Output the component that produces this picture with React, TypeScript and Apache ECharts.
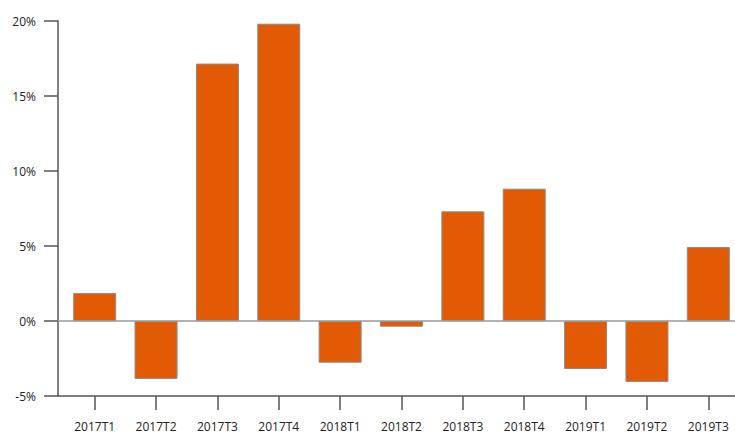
import React, { useEffect, useRef } from 'react';
import * as echarts from 'echarts';

// quarters shown on the x axis
const quarters = [
  '2017T1', '2017T2', '2017T3', '2017T4',
  '2018T1', '2018T2', '2018T3', '2018T4',
  '2019T1', '2019T2', '2019T3',
];

// growth in percent
const growth = [1.86, -3.86, 17.16, 19.82, -2.78, -0.38, 7.31, 8.82, -3.2, -4.06, 4.93];

const yMin = -5;
const yMax = 20;
const yStep = 5;

const FONT = '"Open Sans", "Noto Sans", sans-serif';

const App: React.FC = () => {
  const chartRef = useRef<HTMLDivElement>(null);

  useEffect(() => {
    document.body.style.margin = '0';
    document.body.style.overflow = 'hidden';
    const chart = echarts.init(chartRef.current!, null, { renderer: 'svg' });

    chart.setOption({
      animation: false,
      // the last band runs a few pixels past the window's right edge
      grid: { left: 64, right: 0, top: 21, bottom: 35 },
      xAxis: {
        type: 'category',
        data: quarters,
        axisLine: { show: false, onZero: false },
        axisTick: {
          show: true,
          alignWithLabel: true,
          length: 14,
          lineStyle: { color: '#555', width: 1.5 },
        },
        axisLabel: { margin: 24, color: '#222', fontSize: 12, fontFamily: FONT },
      },
      yAxis: {
        type: 'value',
        min: yMin,
        max: yMax,
        interval: yStep,
        offset: 6,
        axisLine: { show: true, lineStyle: { color: '#555', width: 1.5 } },
        axisTick: { show: true, length: 14, lineStyle: { color: '#555', width: 1.5 } },
        splitLine: { show: false },
        axisLabel: {
          formatter: '{value}%',
          margin: 22,
          color: '#222',
          fontSize: 12,
          fontFamily: FONT,
        },
      },
      series: [
        {
          type: 'bar',
          data: growth,
          barWidth: 43,
          itemStyle: { color: '#E35A05', borderColor: '#8a8a8a', borderWidth: 1 },
        },
      ],
    });

    // axis line at the bottom and the zero line, placed through the y scale
    const yZero = chart.convertToPixel({ yAxisIndex: 0 }, 0) as number;
    const yBottom = chart.convertToPixel({ yAxisIndex: 0 }, yMin) as number;
    chart.setOption({
      graphic: [
        {
          type: 'line',
          shape: { x1: 58, y1: yZero, x2: 735, y2: yZero },
          style: { stroke: '#999', lineWidth: 1.5 },
          z: 10,
        },
        {
          type: 'line',
          shape: { x1: 58, y1: yBottom, x2: 735, y2: yBottom },
          style: { stroke: '#555', lineWidth: 1.5 },
          z: 10,
        },
      ],
    });

    return () => {
      chart.dispose();
    };
  }, []);

  return <div ref={chartRef} style={{ width: '739px', height: '432px' }} />;
};

export default App;
